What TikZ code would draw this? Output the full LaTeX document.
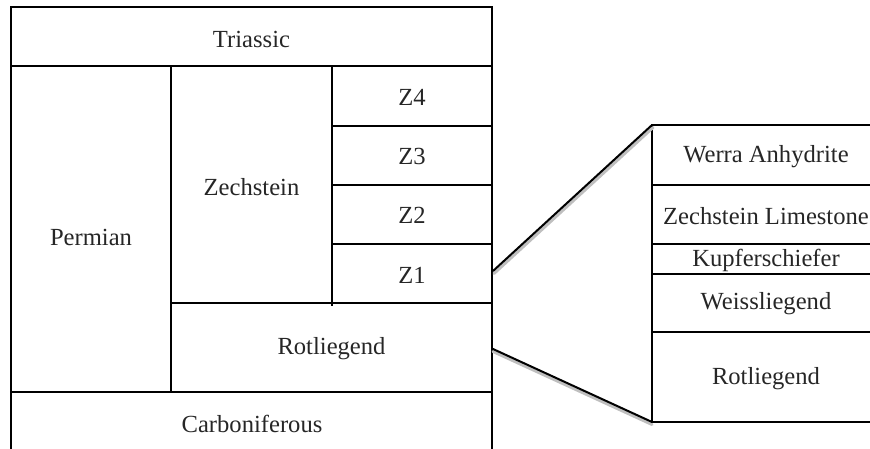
\documentclass[tikz,border=0pt]{standalone}
\usepackage{fontspec}
\setmainfont{Liberation Serif}
\begin{document}
\begin{tikzpicture}[x=1pt,y=-1pt,
  cell/.style={line width=2pt,line cap=rect},
  txt/.style={inner sep=0pt,font=\fontsize{24.6}{29}\selectfont,text=black!85},
  link/.style={line width=2pt,line cap=round},
  shade/.style={line width=3pt,black!25,line cap=round}]
\useasboundingbox (0,0) rectangle (870,449);
\clip (0,0) rectangle (870,449);
% left table
\draw[cell] (11,460) -- (11,7) -- (492,7) -- (492,460);
\draw[cell] (11,66) -- (492,66);
\draw[cell] (171,66) -- (171,392);
\draw[cell] (332,66) -- (332,305);
\draw[cell] (332,126) -- (492,126);
\draw[cell] (332,185) -- (492,185);
\draw[cell] (332,244) -- (492,244);
\draw[cell] (171,303) -- (492,303);
\draw[cell] (11,392) -- (492,392);
% right table
\draw[cell] (880,125) -- (652,125) -- (652,422) -- (880,422);
\draw[cell] (652,185) -- (880,185);
\draw[cell] (652,244) -- (880,244);
\draw[cell] (652,274) -- (880,274);
\draw[cell] (652,332) -- (880,332);
% texts
\node[txt] (tri) at (251.5,39) {Triassic};
\node[txt] (perm) at (91,237) {Permian};
\node[txt] (zech) at (251.5,187) {Zechstein};
\node[txt] (z4) at (412,97) {Z4};
\node[txt] (z3) at (412,156) {Z3};
\node[txt] (z2) at (412,215) {Z2};
\node[txt] (z1) at (412,275) {Z1};
\node[txt] (rotl) at (331.5,349) {Rotliegend};
\node[txt] (carb) at (252,424) {Carboniferous};
\node[txt] (werra) at (766,157) {Werra Anhydrite};
\node[txt] (zlime) at (766,216) {Zechstein Limestone};
\node[txt] (kupf) at (766,260) {Kupferschiefer};
\node[txt] (weiss) at (766,304) {Weissliegend};
\node[txt] (rotr) at (766,379) {Rotliegend};
% connectors
\coordinate (a1) at (493,271);
\coordinate (b1) at (652,125);
\coordinate (a2) at (493,349);
\coordinate (b2) at (652,422);
\draw[shade] ([shift={(1,2.5)}]a1) -- ([shift={(1,2.5)}]b1);
\draw[shade] ([shift={(0,2.5)}]a2) -- ([shift={(0,2.5)}]b2);
\draw[link] (a1) -- (b1);
\draw[link] (a2) -- (b2);
\end{tikzpicture}
\end{document}
